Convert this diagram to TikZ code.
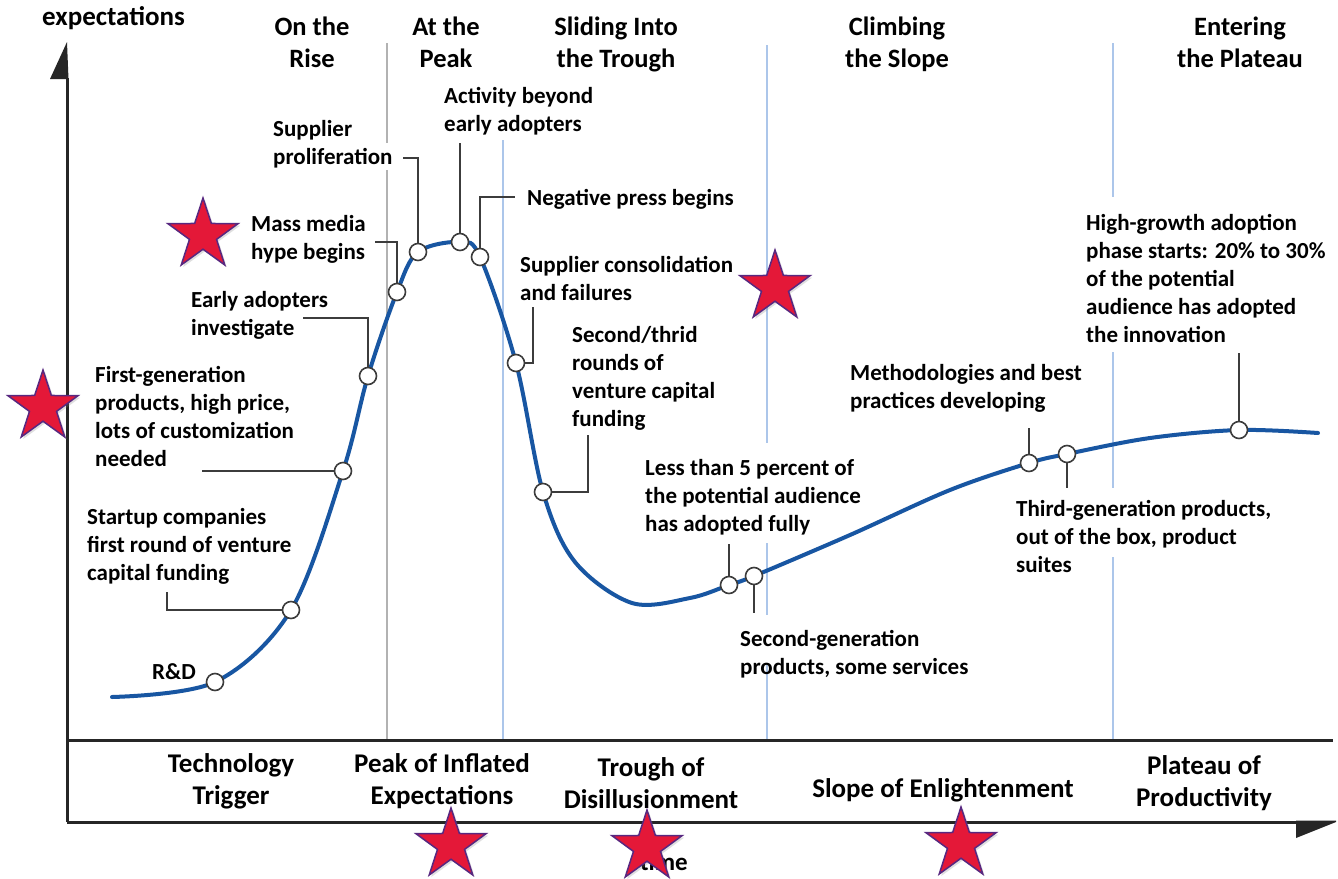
\documentclass[tikz,border=0pt]{standalone}
\usepackage{fontspec}
\setmainfont{Carlito}
\usetikzlibrary{shapes.geometric,shadows}
\definecolor{curveblue}{RGB}{24,86,162}
\definecolor{sepblue}{RGB}{172,198,234}
\definecolor{sepgray}{RGB}{178,178,178}
\definecolor{conn}{RGB}{60,60,60}
\definecolor{starred}{RGB}{228,24,56}
\definecolor{starpurple}{RGB}{88,40,128}
\begin{document}
\begin{tikzpicture}[x=1pt,y=-1pt,
 lbl/.style={font=\fontsize{23}{28}\selectfont\bfseries, align=left, inner sep=0pt, anchor=base west},
 hd/.style={font=\fontsize{26.5}{32}\selectfont\bfseries, align=center, inner sep=0pt, anchor=base},
 ph/.style={font=\fontsize{27}{32}\selectfont\bfseries, align=center, inner sep=0pt, anchor=base},
 dot/.style={circle, draw=conn, fill=white, line width=1.6pt, minimum size=17pt, inner sep=0pt},
 conline/.style={draw=conn, line width=2pt},
 sepb/.style={draw=sepblue, line width=2pt},
 sepg/.style={draw=sepgray, line width=1.6pt},
 axisline/.style={line width=3pt, draw=black!85},
 starnode/.style={star, star points=5, star point ratio=2.6, minimum size=74pt, inner sep=0pt, fill=starred, draw=starpurple, line width=1.5pt, drop shadow={opacity=0.25, shadow xshift=2pt, shadow yshift=-2pt}},
]
\useasboundingbox (0,0) rectangle (1338,878);
\fill[white] (0,0) rectangle (1338,878);

% separator lines
\draw[sepg] (387,43) -- (387,143);
\draw[sepg] (387,170) -- (387,740);
\draw[sepb] (503,140) -- (503,740);
\draw[sepb] (767,45) -- (767,443);
\draw[sepb] (767,543) -- (767,615);
\draw[sepb] (767,665) -- (767,740);
\draw[sepb] (1113,43) -- (1113,197);
\draw[sepb] (1113,352) -- (1113,488);
\draw[sepb] (1113,557) -- (1113,740);

% axes
\draw[axisline] (67,78) -- (67,822);
\fill[black!85] (67,42) -- (50,79) -- (68.5,79) -- cycle;
\draw[axisline] (67,740) -- (1333,740);
\draw[axisline] (67,822) -- (1300,822);
\fill[black!85] (1336,822) -- (1296,838) -- (1296,820.5) -- (1336,820.5) -- cycle;

\node[lbl, font=\fontsize{27}{30}\selectfont\bfseries] (ylab) at (42,25) {expectations};
\node[ph, font=\fontsize{25}{30}\selectfont\bfseries] (xlab) at (664,870) {time};

% headings
\node[hd] (h1) at (312,67) {On the\\Rise};
\node[hd] (h2) at (446,67) {At the\\Peak};
\node[hd] (h3) at (616,67) {Sliding Into\\the Trough};
\node[hd] (h4) at (897,67) {Climbing\\the Slope};
\node[hd] (h5) at (1240,67) {Entering\\the Plateau};

% phase labels
\node[ph] (p1) at (231,804) {Technology\\Trigger};
\node[ph] (p2) at (442,804) {Peak of Inflated\\Expectations};
\node[ph] (p3) at (651,808) {Trough of\\Disillusionment};
\node[ph] (p4) at (943,797) {Slope of Enlightenment};
\node[ph] (p5) at (1204,806) {Plateau of\\Productivity};

% curve
\draw[curveblue, line width=4pt, line cap=round] plot[smooth, tension=0.55] coordinates {
 (112,697) (215,682) (291,610) (343,471) (368,376) (397,292) (418,252) (460,242) (480,257)
 (516,363) (543,492) (575,562) (632,603) (690,598) (729,585) (754,576) (850,535) (950,490)
 (1029,463) (1067,454) (1150,438) (1239,430) (1318,433)};

% connector end points
\coordinate (k2) at (167,592);
\coordinate (k3) at (202,471);
\coordinate (k4) at (303,318);
\coordinate (k5) at (375,242);
\coordinate (k6) at (403,158);
\coordinate (k7) at (460,143);
\coordinate (k8) at (515,197);
\coordinate (k9) at (533,307);
\coordinate (k10) at (588,435);
\coordinate (k11) at (729,544);
\coordinate (k12) at (754,613);
\coordinate (k13) at (1029,428);
\coordinate (k14) at (1067,488);
\coordinate (k15) at (1239,353);

% circles
\node[dot] (c1) at (215,682) {};
\node[dot] (c2) at (291,610) {};
\node[dot] (c3) at (343,471) {};
\node[dot] (c4) at (368,376) {};
\node[dot] (c5) at (397,292) {};
\node[dot] (c6) at (418,252) {};
\node[dot] (c7) at (460,242) {};
\node[dot] (c8) at (480,257) {};
\node[dot] (c9) at (516,363) {};
\node[dot] (c10) at (543,492) {};
\node[dot] (c11) at (729,585) {};
\node[dot] (c12) at (754,576) {};
\node[dot] (c13) at (1029,463) {};
\node[dot] (c14) at (1067,454) {};
\node[dot] (c15) at (1239,430) {};

% connectors
\draw[conline] (c2) -| (k2);
\draw[conline] (c3) -- (k3);
\draw[conline] (c4) |- (k4);
\draw[conline] (c5) |- (k5);
\draw[conline] (c6) |- (k6);
\draw[conline] (c7) -- (k7);
\draw[conline] (c8) |- (k8);
\draw[conline] (c9) -| (k9);
\draw[conline] (c10) -| (k10);
\draw[conline] (c11) -- (k11);
\draw[conline] (c12) -- (k12);
\draw[conline] (c13) -- (k13);
\draw[conline] (c14) -- (k14);
\draw[conline] (c15) -- (k15);

% labels (anchor = baseline of the last line)
\node[lbl] (t1) at (152,679) {R\&D};
\node[lbl] (t2) at (87,580) {Startup companies\\first round of venture\\capital funding};
\node[lbl] (t3) at (95,466) {First-generation\\products, high price,\\lots of customization\\needed};
\node[lbl] (t4) at (191,335) {Early adopters\\investigate};
\node[lbl] (t5) at (251,259) {Mass media\\hype begins};
\node[lbl] (t6) at (273,164) {Supplier\\proliferation};
\node[lbl] (t7) at (444,131) {Activity beyond\\early adopters};
\node[lbl] (t8) at (527,205) {Negative press begins};
\node[lbl] (t9) at (520,300) {Supplier consolidation\\and failures};
\node[lbl] (t10) at (572,426) {Second/thrid\\rounds of\\venture capital\\funding};
\node[lbl] (t11) at (645,531) {Less than 5 percent of\\the potential audience\\has adopted fully};
\node[lbl] (t12) at (740,674) {Second-generation\\products, some services};
\node[lbl] (t13) at (850,408) {Methodologies and best\\practices developing};
\node[lbl] (t14) at (1016,572) {Third-generation products,\\out of the box, product\\suites};
\node[lbl] (t15) at (1086,342) {High-growth adoption\\phase starts: 20\% to 30\%\\of the potential\\audience has adopted\\the innovation};

% stars
\node[starnode] (s1) at (203,235) {};
\node[starnode] (s2) at (43,407) {};
\node[starnode] (s3) at (775,287) {};
\node[starnode] (s4) at (451,845) {};
\node[starnode] (s5) at (647,847) {};
\node[starnode] (s6) at (961,844) {};
\end{tikzpicture}
\end{document}
